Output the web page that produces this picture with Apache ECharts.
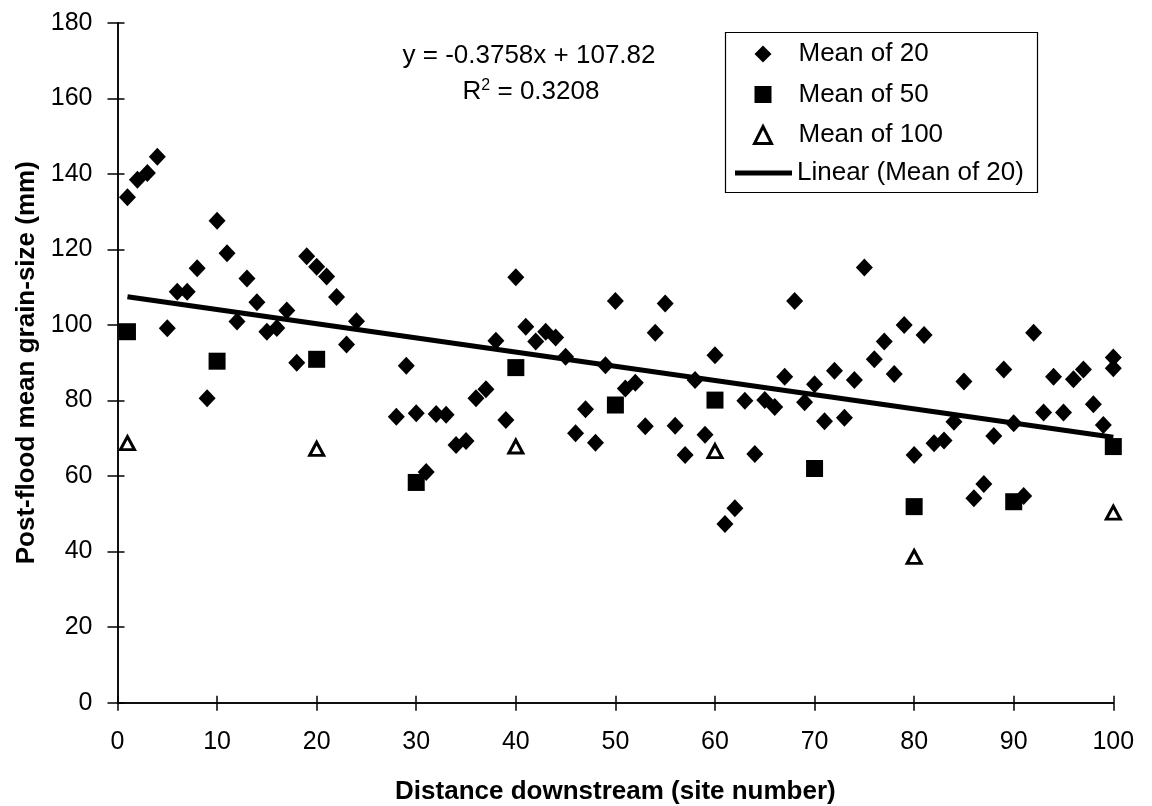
<!DOCTYPE html>
<html>
<head>
<meta charset="utf-8">
<title>Post-flood mean grain-size</title>
<script src="https://cdn.jsdelivr.net/npm/echarts@6/dist/echarts.min.js"></script>
<style>
  html, body { margin: 0; padding: 0; background: #ffffff; }
  #chart { width: 1152px; height: 806px; }
</style>
</head>
<body>
<div id="chart"></div>
<script>
// Mean grain-size of 20 clasts at each site
const sites20 = [
  1, 2, 3, 4, 5, 6, 7, 8, 9, 10, 11, 12, 13, 14, 15, 16, 17, 18, 19, 20, 21, 22, 23, 24,
  28, 29, 30, 31, 32, 33, 34, 35, 36, 37, 38, 39, 40, 41, 42, 43, 44, 45, 46, 47, 48, 49,
  50, 51, 52, 53, 54, 55, 56, 57, 58, 59, 60, 61, 62, 63, 64, 65, 66, 67, 68, 69, 70, 71,
  72, 73, 74, 75, 76, 77, 78, 79, 80, 81, 82, 83, 84, 85, 86, 87, 88, 89, 90, 91, 92, 93,
  94, 95, 96, 97, 98, 99, 100, 100
];
const mean20 = [
  133.8, 138.4, 140.2, 144.5, 99.1, 108.8, 108.8, 115.0, 80.6, 127.6, 119.0, 100.9, 112.3, 106.0,
  98.2, 99.2, 103.8, 90.0, 118.2, 115.4, 112.8, 107.4, 94.8, 101.0,
  75.7, 89.2, 76.6, 61.1, 76.4, 76.2, 68.2, 69.3, 80.6, 83.0, 95.8, 74.8, 112.6, 99.5, 95.6, 98.2,
  96.7, 91.6, 71.3, 77.7, 68.8, 89.3,
  106.3, 83.2, 84.7, 73.2, 97.9, 105.7, 73.3, 65.6, 85.4, 70.9, 92.0, 47.3, 51.5, 79.9, 65.8, 80.1,
  78.3, 86.3, 106.3, 79.5, 84.3, 74.5,
  87.9, 75.4, 85.4, 115.2, 90.9, 95.6, 87.0, 100.0, 65.6, 97.3, 68.7, 69.4, 74.4, 85.0, 54.1, 57.9,
  70.6, 88.2, 74.0, 54.7, 97.9, 76.8,
  86.3, 76.8, 85.6, 88.2, 79.0, 73.5, 91.4, 88.5
];

// Mean of 50 clasts
const sites50 = [1, 10, 20, 30, 40, 50, 60, 70, 80, 90, 100];
const mean50 = [98.2, 90.4, 90.9, 58.3, 88.7, 78.8, 80.1, 62.0, 51.9, 53.2, 67.8];

// Mean of 100 clasts
const sites100 = [1, 20, 40, 60, 80, 100];
const mean100 = [68.7, 67.2, 67.8, 66.6, 38.6, 50.3];

// Least-squares fit of the mean-of-20 series
const trendSlope = -0.3758;
const trendIntercept = 107.82;
const trendR2 = 0.3208;
const trendRange = [1, 100];

const xTicks = { min: 0, max: 100, step: 10 };
const yTicks = { min: 0, max: 180, step: 20 };

const FONT = '"Liberation Sans", Arial, Helvetica, sans-serif';

const pairs = (xs, ys) => xs.map((x, i) => [x, ys[i]]);
const trendData = trendRange.map(x => [x, trendSlope * x + trendIntercept]);

const signStr = v => (v < 0 ? ' - ' : ' + ');
const eqText = 'y = ' + trendSlope + 'x' + signStr(trendIntercept) + Math.abs(trendIntercept);

const axisLine = { show: true, lineStyle: { color: '#000', width: 1.5 } };
const tickStyle = { color: '#000', width: 1.5 };
const legendText = { fontFamily: FONT, fontSize: 26, color: '#000' };

// both grids share one plot rectangle; the second only carries the inward half of each tick
const plotRect = {
  left: 117.5, right: 38.7, top: 22.7, bottom: 103.3,
  containLabel: false, outerBoundsMode: 'none'
};

const chart = echarts.init(document.getElementById('chart'), null, { renderer: 'canvas' });

chart.setOption({
  animation: false,
  backgroundColor: '#ffffff',
  textStyle: { fontFamily: FONT, color: '#000' },
  grid: [Object.assign({}, plotRect), Object.assign({}, plotRect)],
  title: [
    {
      text: eqText,
      left: 529, top: 43, textAlign: 'center', padding: 0,
      textStyle: { fontFamily: FONT, fontSize: 26, fontWeight: 'normal', color: '#000' }
    },
    {
      text: 'R{sup|2} = ' + trendR2,
      left: 531, top: 78, textAlign: 'center', padding: 0,
      textStyle: {
        fontFamily: FONT, fontSize: 26, fontWeight: 'normal', color: '#000', lineHeight: 28,
        rich: { sup: { fontFamily: FONT, fontSize: 16, color: '#000', verticalAlign: 'top', lineHeight: 16 } }
      }
    }
  ],
  // legend frame
  graphic: [
    {
      type: 'rect', left: 723, top: 30, z: 10, silent: true,
      shape: { width: 312, height: 160 },
      style: { fill: 'none', stroke: '#000', lineWidth: 1.2 }
    }
  ],
  legend: [
    {
      orient: 'vertical',
      left: 753, top: 41, padding: 0,
      itemWidth: 17, itemHeight: 17, itemGap: 14.5,
      textStyle: Object.assign({ padding: [0, 0, 0, 22], lineHeight: 26 }, legendText),
      data: [
        'Mean of 20',
        'Mean of 50',
        { name: 'Mean of 100', itemStyle: { color: '#fff', borderColor: '#000', borderWidth: 3 } }
      ]
    },
    {
      orient: 'vertical',
      left: 735, top: 160, padding: 0,
      itemWidth: 57, itemHeight: 5,
      textStyle: Object.assign({ lineHeight: 26 }, legendText),
      data: [{ name: 'Linear (Mean of 20)', icon: 'rect' }]
    }
  ],
  xAxis: [
    {
      gridIndex: 0,
      type: 'value', min: xTicks.min, max: xTicks.max, interval: xTicks.step,
      name: 'Distance downstream (site number)',
      nameLocation: 'middle', nameGap: 76,
      nameTextStyle: { fontFamily: FONT, fontSize: 26, fontWeight: 'bold', color: '#000' },
      axisLine: axisLine,
      axisTick: { show: true, inside: false, length: 8, lineStyle: tickStyle },
      axisLabel: { fontFamily: FONT, fontSize: 25, color: '#000', margin: 27 },
      splitLine: { show: false }
    },
    {
      gridIndex: 1,
      type: 'value', min: xTicks.min, max: xTicks.max, interval: xTicks.step,
      position: 'bottom',
      axisLine: axisLine,
      axisTick: { show: true, inside: true, length: 7, lineStyle: tickStyle },
      axisLabel: { show: false },
      splitLine: { show: false }
    }
  ],
  yAxis: [
    {
      gridIndex: 0,
      type: 'value', min: yTicks.min, max: yTicks.max, interval: yTicks.step,
      name: 'Post-flood mean grain-size (mm)',
      nameLocation: 'middle', nameGap: 70,
      nameTextStyle: { fontFamily: FONT, fontSize: 26, fontWeight: 'bold', color: '#000' },
      axisLine: axisLine,
      axisTick: { show: true, inside: false, length: 10, lineStyle: tickStyle },
      axisLabel: { fontFamily: FONT, fontSize: 25, color: '#000', margin: 25 },
      splitLine: { show: false }
    },
    {
      gridIndex: 1,
      type: 'value', min: yTicks.min, max: yTicks.max, interval: yTicks.step,
      position: 'left',
      axisLine: axisLine,
      axisTick: { show: true, inside: true, length: 7, lineStyle: tickStyle },
      axisLabel: { show: false },
      splitLine: { show: false }
    }
  ],
  series: [
    {
      name: 'Mean of 20', type: 'scatter',
      symbol: 'diamond', symbolSize: [17, 18],
      itemStyle: { color: '#000', opacity: 1 },
      data: pairs(sites20, mean20), z: 2
    },
    {
      name: 'Mean of 50', type: 'scatter',
      symbol: 'rect', symbolSize: 17,
      itemStyle: { color: '#000', opacity: 1 },
      data: pairs(sites50, mean50), z: 3
    },
    {
      name: 'Mean of 100', type: 'scatter',
      symbol: 'triangle', symbolSize: [14, 13],
      itemStyle: { color: '#fff', borderColor: '#000', borderWidth: 3, opacity: 1 },
      data: pairs(sites100, mean100), z: 3
    },
    {
      name: 'Linear (Mean of 20)', type: 'line',
      symbol: 'none', showSymbol: false,
      lineStyle: { color: '#000', width: 5 },
      itemStyle: { color: '#000' },
      data: trendData, z: 5, silent: true
    },
    {
      // empty series that keeps the inner-tick axes alive
      name: 'ticks', type: 'scatter', xAxisIndex: 1, yAxisIndex: 1,
      data: [], silent: true
    }
  ]
});
</script>
</body>
</html>
